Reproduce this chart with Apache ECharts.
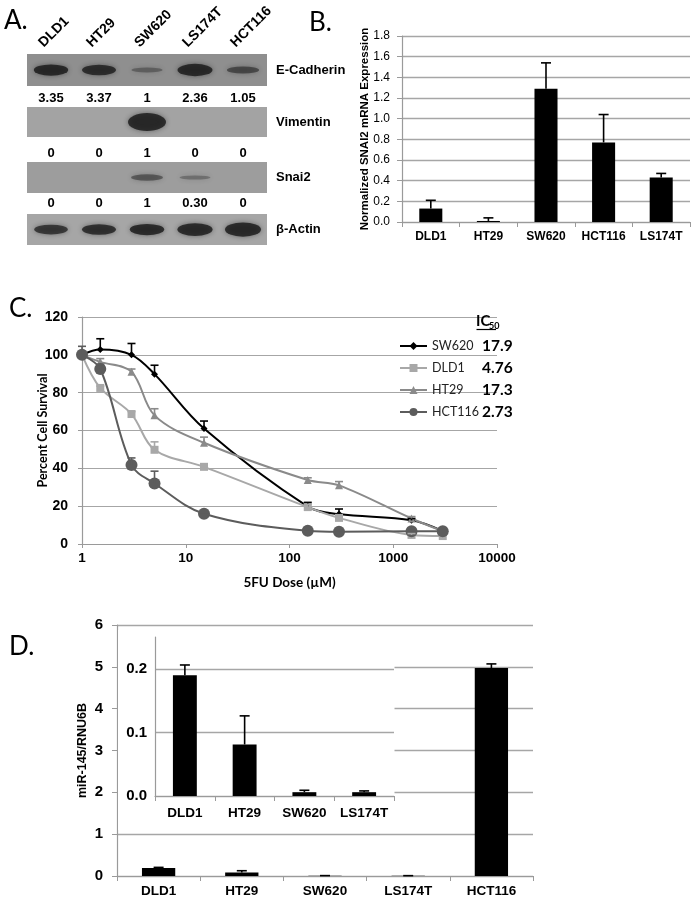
<!DOCTYPE html>
<html><head><meta charset="utf-8">
<script src="https://cdn.jsdelivr.net/npm/echarts@6/dist/echarts.min.js"></script>
<style>html,body{margin:0;padding:0;background:#fff}#c{width:695px;height:900px}</style>
</head><body><div id="c"></div>
<script>
// ---------- Panel A (western blot) ----------
const lanes = ['DLD1', 'HT29', 'SW620', 'LS174T', 'HCT116'];
const blotProteins = ['E-Cadherin', 'Vimentin', 'Snai2', 'β-Actin'];
const ecadQuant = ['3.35', '3.37', '1', '2.36', '1.05'];
const vimQuant = ['0', '0', '1', '0', '0'];
const snaiQuant = ['0', '0', '1', '0.30', '0'];
const ecadBand = [0.55, 0.5, 0.12, 0.62, 0.28];
const vimBand = [0, 0, 1, 0, 0];
const snaiBand = [0, 0, 0.22, 0.08, 0];
const actinBand = [0.45, 0.5, 0.55, 0.65, 0.75];

// ---------- Panel B ----------
const bCats = ['DLD1', 'HT29', 'SW620', 'HCT116', 'LS174T'];
const bValues = [0.13, 0.01, 1.29, 0.77, 0.43];
const bErrTop = [0.21, 0.04, 1.54, 1.04, 0.47];

// ---------- Panel C ----------
const doses = [1, 1.5, 3, 5, 15, 150, 300, 1500, 3000];
const sw620 = [100, 102.8, 100, 89.8, 61, 19.8, 15.8, 12.5, 6.8];
const dld1 = [100, 82.5, 68.7, 49.8, 40.8, 19.5, 13.8, 4.8, 4.2];
const ht29 = [100, 96.3, 91, 68, 53.5, 33.8, 31, 13.5, 6.8];
const hct116 = [100, 92.5, 41.8, 32, 16, 7, 6.5, 6.8, 6.8];
const sw620Err = [null, 108.5, 106, 94.5, 65, 22, 18.5, 13.5, null];
const dld1Err = [null, 83.5, 70, 54, 42, 21, 14.5, 5.5, null];
const ht29Err = [null, 98, 92.5, 71.5, 56.5, 35, 33, 14.5, null];
const hct116Err = [104.5, 95, 45.5, 38.5, 16.5, 7.5, 7, 7, null];
const cNames = ['SW620', 'DLD1', 'HT29', 'HCT116'];
const ic50 = ['17.9', '4.76', '17.3', '2.73'];

// ---------- Panel D ----------
const dCats = ['DLD1', 'HT29', 'SW620', 'LS174T', 'HCT116'];
const dValues = [0.19, 0.081, 0.006, 0.006, 4.97];
const dErrTop = [0.206, 0.126, 0.009, 0.008, 5.07];
const insetCats = dCats.slice(0, 4);

const ARIAL = '"Liberation Sans", Arial, sans-serif';
const CAL = 'Lato, "Open Sans", sans-serif';
const GRID_C = '#a6a6a6';
const AX_C = '#9a9a9a';

const chart = echarts.init(document.getElementById('c'), null, {renderer: 'canvas'});

function errRender(color, capHalf) {
  return function (params, api) {
    const x = api.value(0), lo = api.value(1), hi = api.value(2);
    const p0 = api.coord([x, lo]);
    const p1 = api.coord([x, hi]);
    return {
      type: 'group',
      children: [
        {type: 'line', shape: {x1: p0[0], y1: p0[1], x2: p1[0], y2: p1[1]}, style: {stroke: color, lineWidth: 1.6}},
        {type: 'line', shape: {x1: p1[0] - capHalf, y1: p1[1], x2: p1[0] + capHalf, y2: p1[1]}, style: {stroke: color, lineWidth: 1.6}}
      ]
    };
  };
}

const stripGeom = [
  {top: 54, height: 32, bg: '#8f8f8f'},
  {top: 107, height: 30, bg: '#a3a3a3'},
  {top: 162, height: 31, bg: '#9d9d9d'},
  {top: 214, height: 31, bg: '#a6a6a6'}
];
const stripQuant = [ecadQuant, vimQuant, snaiQuant, null];
const stripBands = [ecadBand, vimBand, snaiBand, actinBand];
const quantMargin = [6, 10, 4, 0];

const grids = stripGeom.map(g => ({left: 27, width: 240, top: g.top, height: g.height, show: true, backgroundColor: g.bg, borderWidth: 0}));
grids.push({left: 402, top: 36, right: 5, bottom: 678});            // 4 B
grids.push({left: 82, top: 317, width: 415, height: 227});           // 5 C
grids.push({left: 117, top: 625, width: 416, height: 251});          // 6 D outer
grids.push({left: 155, top: 637, width: 239, height: 159});          // 7 D inset
grids.push({left: 17, width: 240, top: 54, height: 32});             // 8 lane name holder

const xAxes = [];
const yAxes = [];
stripGeom.forEach((g, i) => {
  xAxes.push({
    type: 'category', gridIndex: i, data: lanes,
    axisLine: {show: false}, axisTick: {show: false}, splitLine: {show: false},
    axisLabel: {
      show: !!stripQuant[i], interval: 0, margin: quantMargin[i],
      formatter: (v, idx) => stripQuant[i] ? stripQuant[i][idx] : '',
      fontFamily: ARIAL, fontWeight: 'bold', fontSize: 13, color: '#000'
    }
  });
  yAxes.push({
    type: 'category', gridIndex: i, data: [blotProteins[i]], position: 'right',
    axisLine: {show: false}, axisTick: {show: false}, splitLine: {show: false},
    axisLabel: {margin: 9, fontFamily: ARIAL, fontWeight: 'bold', fontSize: 13, color: '#000'}
  });
});
// index 4: lane names on top (grid 8)
xAxes.push({
  type: 'category', gridIndex: 8, data: lanes, position: 'top',
  axisLine: {show: false}, axisTick: {show: false}, splitLine: {show: false},
  axisLabel: {interval: 0, rotate: 45, margin: 9, fontFamily: ARIAL, fontWeight: 'bold', fontSize: 14, color: '#000'}
});
yAxes.push({type: 'value', gridIndex: 8, show: false});
// index 5: B
xAxes.push({
  type: 'category', gridIndex: 4, data: bCats,
  axisLine: {lineStyle: {color: AX_C, width: 1.2}},
  axisTick: {show: true, length: 5, lineStyle: {color: AX_C}},
  axisLabel: {interval: 0, margin: 9, fontFamily: ARIAL, fontWeight: 'bold', fontSize: 12, color: '#000'}
});
yAxes.push({
  type: 'value', gridIndex: 4, min: 0, max: 1.8, interval: 0.2,
  axisLine: {show: true, lineStyle: {color: AX_C, width: 1.2}},
  axisTick: {show: true, length: 5, lineStyle: {color: AX_C}},
  splitLine: {lineStyle: {color: GRID_C, width: 1.3}},
  axisLabel: {margin: 12, formatter: v => v.toFixed(1), fontFamily: ARIAL, fontSize: 12, color: '#000'},
  name: 'Normalized SNAI2 mRNA Expression', nameLocation: 'middle', nameGap: 31, nameMoveOverlap: false,
  nameTextStyle: {fontFamily: ARIAL, fontWeight: 'bold', fontSize: 11.5, color: '#000'}
});
// index 6: C
xAxes.push({
  type: 'log', logBase: 10, gridIndex: 5, min: 1, max: 10000,
  axisLine: {lineStyle: {color: AX_C, width: 1.2}},
  axisTick: {show: true, length: 4, lineStyle: {color: AX_C}},
  splitLine: {show: false}, minorTick: {show: false},
  axisLabel: {margin: 7, formatter: v => String(Math.round(v)), fontFamily: ARIAL, fontWeight: 'bold', fontSize: 13.5, color: '#000'},
  name: '5FU Dose (µM)', nameLocation: 'middle', nameGap: 32, nameMoveOverlap: false,
  nameTextStyle: {fontFamily: CAL, fontWeight: 'bold', fontSize: 13.5, color: '#000'}
});
yAxes.push({
  type: 'value', gridIndex: 5, min: 0, max: 120, interval: 20,
  axisLine: {show: true, lineStyle: {color: AX_C, width: 1.2}},
  axisTick: {show: true, length: 4, lineStyle: {color: AX_C}},
  splitLine: {lineStyle: {color: GRID_C, width: 1.2}},
  axisLabel: {margin: 14, fontFamily: ARIAL, fontWeight: 'bold', fontSize: 14, color: '#000'},
  name: 'Percent Cell Survival', nameLocation: 'middle', nameGap: 33, nameMoveOverlap: false,
  nameTextStyle: {fontFamily: CAL, fontWeight: 'bold', fontSize: 12.5, color: '#000'}
});
// index 7: D outer
xAxes.push({
  type: 'category', gridIndex: 6, data: dCats,
  axisLine: {lineStyle: {color: AX_C, width: 1.2}},
  axisTick: {show: true, length: 5, lineStyle: {color: AX_C}},
  axisLabel: {interval: 0, margin: 8, fontFamily: ARIAL, fontWeight: 'bold', fontSize: 13.5, color: '#000'}
});
yAxes.push({
  type: 'value', gridIndex: 6, min: 0, max: 6, interval: 1,
  axisLine: {show: true, lineStyle: {color: AX_C, width: 1.2}},
  axisTick: {show: true, length: 5, lineStyle: {color: AX_C}},
  splitLine: {lineStyle: {color: GRID_C, width: 1.3}},
  axisLabel: {margin: 14, fontFamily: ARIAL, fontWeight: 'bold', fontSize: 15, color: '#000'},
  name: 'miR-145/RNU6B', nameLocation: 'middle', nameGap: 28, nameMoveOverlap: false,
  nameTextStyle: {fontFamily: ARIAL, fontWeight: 'bold', fontSize: 12.5, color: '#000'}
});
// index 8: D inset
xAxes.push({
  type: 'category', gridIndex: 7, data: insetCats, z: 3,
  axisLine: {lineStyle: {color: AX_C, width: 1.2}},
  axisTick: {show: true, length: 5, lineStyle: {color: AX_C}},
  axisLabel: {interval: 0, margin: 10, fontFamily: ARIAL, fontWeight: 'bold', fontSize: 13.5, color: '#000'}
});
yAxes.push({
  type: 'value', gridIndex: 7, min: 0, max: 0.25, interval: 0.1, z: 3,
  axisLine: {show: true, lineStyle: {color: AX_C, width: 1.2}},
  axisTick: {show: false},
  splitLine: {lineStyle: {color: [GRID_C, GRID_C, GRID_C, 'rgba(0,0,0,0)'], width: 1.3}},
  axisLabel: {margin: 8, showMaxLabel: false, formatter: v => v.toFixed(1), fontFamily: ARIAL, fontWeight: 'bold', fontSize: 15, color: '#000'}
});

const AX = {B: 5, C: 6, D: 7, DI: 8};

const series = [];
// blot bands
stripBands.forEach((band, i) => {
  series.push({
    type: 'scatter', xAxisIndex: i, yAxisIndex: i, symbol: 'circle', silent: true,
    data: band.map((v, j) => [j, 0, v]),
    symbolSize: d => [30 + 8 * d[2], 3 + 15 * d[2]],
    itemStyle: {
      color: p => {
        const v = p.data[2];
        const op = v > 0 ? Math.min(1, 0.25 + 1.4 * v) : 0;
        return 'rgba(24,24,24,' + op + ')';
      },
      shadowBlur: 5, shadowColor: 'rgba(30,30,30,0.6)'
    }
  });
});
// B
series.push({type: 'bar', xAxisIndex: AX.B, yAxisIndex: AX.B, data: bValues, barWidth: '40%', itemStyle: {color: '#000'}});
series.push({
  type: 'custom', xAxisIndex: AX.B, yAxisIndex: AX.B, renderItem: errRender('#000', 5), z: 3,
  data: bCats.map((c, i) => [i, bValues[i], bErrTop[i]]), encode: {x: 0, y: [1, 2]}
});
// C
const cData = [sw620, dld1, ht29, hct116];
const cErr = [sw620Err, dld1Err, ht29Err, hct116Err];
const cColors = ['#000000', '#a8a8a8', '#8a8a8a', '#5c5c5c'];
const cSymbols = ['diamond', 'rect', 'triangle', 'circle'];
const cSizes = [7, 8, 8, 12];
cNames.forEach((n, k) => {
  series.push({
    name: n, type: 'line', xAxisIndex: AX.C, yAxisIndex: AX.C, smooth: 0.35,
    data: doses.map((d, i) => [d, cData[k][i]]),
    symbol: cSymbols[k], symbolSize: cSizes[k], showAllSymbol: true,
    lineStyle: {color: cColors[k], width: 2}, itemStyle: {color: cColors[k]}, z: 2
  });
});
cNames.forEach((n, k) => {
  series.push({
    type: 'custom', xAxisIndex: AX.C, yAxisIndex: AX.C, renderItem: errRender(cColors[k], 4), z: 3,
    data: doses.map((d, i) => [d, cData[k][i], cErr[k][i]]).filter(r => r[2] != null),
    encode: {x: 0, y: [1, 2]}
  });
});
// D outer
series.push({type: 'bar', xAxisIndex: AX.D, yAxisIndex: AX.D, data: dValues, barWidth: '40%', itemStyle: {color: '#000'}});
series.push({
  type: 'custom', xAxisIndex: AX.D, yAxisIndex: AX.D, renderItem: errRender('#000', 5), z: 3,
  data: dCats.map((c, i) => [i, dValues[i], dErrTop[i]]), encode: {x: 0, y: [1, 2]}
});
// D inset
series.push({type: 'bar', xAxisIndex: AX.DI, yAxisIndex: AX.DI, data: dValues.slice(0, 4), barWidth: '40%', itemStyle: {color: '#000'}, z: 4});
series.push({
  type: 'custom', xAxisIndex: AX.DI, yAxisIndex: AX.DI, renderItem: errRender('#000', 5), z: 5,
  data: insetCats.map((c, i) => [i, dValues[i], dErrTop[i]]), encode: {x: 0, y: [1, 2]}
});

const panelLetter = (t, x, y) => ({type: 'text', left: x, top: y, z: 10, style: {text: t, font: '26px Lato, "Open Sans", sans-serif', fill: '#000'}});

chart.setOption({
  animation: false,
  backgroundColor: '#fff',
  grid: grids,
  xAxis: xAxes,
  yAxis: yAxes,
  legend: {
    data: cNames, orient: 'vertical', left: 394, top: 333, itemWidth: 27, itemHeight: 10, itemGap: 6,
    formatter: name => '{n|' + name + '}{v|' + ic50[cNames.indexOf(name)] + '}',
    textStyle: {
      fontFamily: CAL, fontSize: 12, color: '#222',
      rich: {
        n: {width: 50, fontFamily: CAL, fontSize: 12.5, color: '#222', lineHeight: 18},
        v: {fontFamily: CAL, fontSize: 15.5, fontWeight: 'bold', color: '#000', lineHeight: 18}
      }
    }
  },
  graphic: [
    panelLetter('A.', 4, 8),
    panelLetter('B.', 309, 10),
    panelLetter('C.', 9, 296),
    panelLetter('D.', 9, 634),
    {type: 'rect', z: 1, shape: {x: 118, y: 630, width: 276.5, height: 200}, style: {fill: '#fff'}},
    {type: 'text', left: 476, top: 314, z: 10, style: {text: 'IC', font: 'bold 15px Lato, sans-serif', fill: '#000'}},
    {type: 'text', left: 489, top: 322, z: 10, style: {text: '50', font: 'bold 9px Lato, sans-serif', fill: '#000'}},
    {type: 'line', z: 10, shape: {x1: 476.5, y1: 329.5, x2: 496, y2: 329.5}, style: {stroke: '#000', lineWidth: 1.2}}
  ],
  series: series
});
</script></body></html>
